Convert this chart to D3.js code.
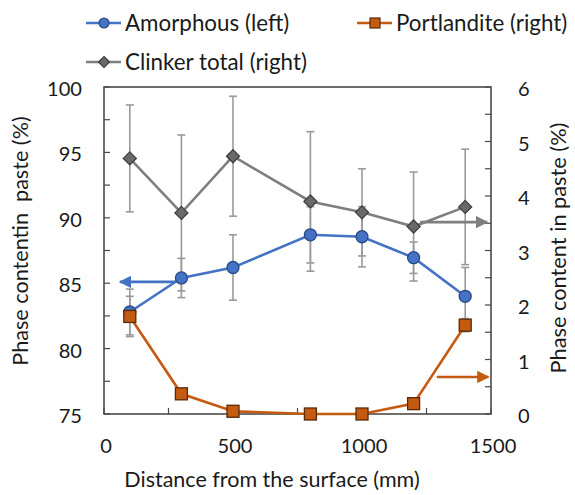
<!DOCTYPE html>
<html><head><meta charset="utf-8">
<script src="https://cdn.jsdelivr.net/npm/d3@7"></script>
<style>body{margin:0;background:#fff}svg{display:block}text{font-family:Lato,"Open Sans",sans-serif;fill:#1a1a1a}</style>
</head><body>
<svg id="c" width="575" height="495"></svg>
<script>
const distances = [100, 300, 500, 800, 1000, 1200, 1400];
const amorphous = [82.8, 85.4, 86.2, 88.7, 88.55, 86.95, 84.0];
const amorphousErr = [1.75, 1.5, 2.5, 2.15, 2.3, 1.2, 2.2];
const portlandite = [1.79, 0.37, 0.05, 0.0, 0.0, 0.19, 1.63];
const portlanditeErr = [0.37, 0.08, 0.05, 0.03, 0.03, 0.08, 0.12];
const clinker = [4.69, 3.69, 4.73, 3.90, 3.70, 3.44, 3.80];
const clinkerErr = [0.98, 1.43, 1.1, 1.28, 0.8, 1.0, 1.06];
const xTicks = [0, 500, 1000, 1500];
const xMinor = [250, 750, 1250];
const yLeftTicks = [75, 80, 85, 90, 95, 100];
const yRightTicks = [0, 1, 2, 3, 4, 5, 6];
const legendLabels = ["Amorphous (left)", "Portlandite (right)", "Clinker total (right)"];

const svg = d3.select("#c");
const x = d3.scaleLinear().domain([0, 1500]).range([104, 491]);
const yL = d3.scaleLinear().domain([75, 100]).range([414, 87]);
const yR = d3.scaleLinear().domain([0, 6]).range([414, 87]);

const frameColor = "#4a4a4a";
const blue = "#4472C4", blueDark = "#2a4a85";
const orange = "#C55A11", orangeDark = "#5a2a08";
const grey = "#7f7f7f", greyDark = "#3f3f3f";
const errColor = "#9a9a9a";

function fitSize(str, target) {
  const t = svg.append("text").attr("font-size", 20).text(str);
  const w = t.node().getComputedTextLength();
  t.remove();
  return 20 * target / w;
}
const tickSize = Math.min(21, fitSize("100", 35));
const legSize = (fitSize(legendLabels[0], 167) + fitSize(legendLabels[1], 166) + fitSize(legendLabels[2], 185)) / 3;

const defs = svg.append("defs");
function marker(id, color) {
  defs.append("marker").attr("id", id).attr("viewBox", "0 0 10 10").attr("refX", 9).attr("refY", 5)
    .attr("markerWidth", 4.8).attr("markerHeight", 4.8).attr("orient", "auto")
    .append("path").attr("d", "M0,0 L10,5 L0,10 z").attr("fill", color);
}
marker("aB", blue); marker("aG", grey); marker("aO", orange);

const g = svg.append("g");
g.selectAll(".lt").data(d3.range(75, 100.01, 2.5)).join("line")
  .attr("x1", x(0)).attr("x2", x(0) + 6).attr("y1", d => yL(d)).attr("y2", d => yL(d))
  .attr("stroke", frameColor).attr("stroke-width", 1.2);
g.selectAll(".rt").data(d3.range(0, 6.01, 0.5)).join("line")
  .attr("x1", x(1500)).attr("x2", x(1500) - 6).attr("y1", d => yR(d)).attr("y2", d => yR(d))
  .attr("stroke", frameColor).attr("stroke-width", 1.2);
g.selectAll(".bt").data(xTicks.concat(xMinor)).join("line")
  .attr("x1", d => x(d)).attr("x2", d => x(d)).attr("y1", yL(75)).attr("y2", yL(75) - 6)
  .attr("stroke", frameColor).attr("stroke-width", 1.2);

svg.append("rect").attr("x", x(0)).attr("y", yL(100)).attr("width", x(1500) - x(0)).attr("height", yL(75) - yL(100))
  .attr("fill", "none").attr("stroke", frameColor).attr("stroke-width", 1.6);

svg.selectAll(".yl").data(yLeftTicks).join("text")
  .attr("x", 82).attr("y", d => yL(d) + 2).attr("dy", "0.35em").attr("text-anchor", "end")
  .attr("font-size", tickSize).text(d => d);
svg.selectAll(".yr").data(yRightTicks).join("text")
  .attr("x", 518).attr("y", d => yR(d) + 2).attr("dy", "0.35em").attr("text-anchor", "start")
  .attr("font-size", tickSize).text(d => d);
svg.selectAll(".xl").data(xTicks).join("text")
  .attr("x", d => x(d) + 2).attr("y", 446).attr("dy", "0.35em").attr("text-anchor", "middle")
  .attr("font-size", tickSize).text(d => d);

const leftTitle = "Phase contentin  paste (%)";
const rightTitle = "Phase content in paste (%)";
const xTitle = "Distance from the surface (mm)";
svg.append("text").attr("transform", "translate(28,241) rotate(-90)").attr("text-anchor", "middle")
  .attr("xml:space", "preserve").attr("font-size", fitSize(leftTitle, 244)).text(leftTitle);
svg.append("text").attr("transform", "translate(566,248) rotate(-90)").attr("text-anchor", "middle")
  .attr("font-size", fitSize(rightTitle, 251)).text(rightTitle);
svg.append("text").attr("x", 272).attr("y", 479).attr("dy", "0.35em").attr("text-anchor", "middle")
  .attr("font-size", Math.min(21.5, fitSize(xTitle, 309))).text(xTitle);

function errBars(vals, errs, scale) {
  const eg = svg.append("g").attr("stroke", errColor).attr("stroke-width", 1.6);
  distances.forEach((d, i) => {
    const cx = x(d), y1 = scale(vals[i] + errs[i]), y2 = scale(vals[i] - errs[i]);
    eg.append("line").attr("x1", cx).attr("x2", cx).attr("y1", y1).attr("y2", y2);
    eg.append("line").attr("x1", cx - 4).attr("x2", cx + 4).attr("y1", y1).attr("y2", y1);
    eg.append("line").attr("x1", cx - 4).attr("x2", cx + 4).attr("y1", y2).attr("y2", y2);
  });
}
errBars(clinker, clinkerErr, yR);
errBars(amorphous, amorphousErr, yL);
errBars(portlandite, portlanditeErr, yR);

function series(vals, scale, color) {
  const line = d3.line().x((v, i) => x(distances[i])).y(v => scale(v));
  svg.append("path").datum(vals).attr("d", line).attr("fill", "none").attr("stroke", color).attr("stroke-width", 2.6);
}
series(clinker, yR, grey);
series(amorphous, yL, blue);
series(portlandite, yR, orange);

function arrow(x1, x2, yv, scale, color, id) {
  svg.append("line").attr("x1", x(x1)).attr("x2", x(x2)).attr("y1", scale(yv)).attr("y2", scale(yv))
    .attr("stroke", color).attr("stroke-width", 2.6).attr("marker-end", `url(#${id})`);
}
arrow(275, 62, 85.1, yL, blue, "aB");
arrow(1225, 1485, 3.52, yR, grey, "aG");
arrow(1290, 1490, 0.68, yR, orange, "aO");

function diamond(sel, cx, cy, s) {
  sel.append("path").attr("d", `M${cx},${cy - s} L${cx + s},${cy} L${cx},${cy + s} L${cx - s},${cy} Z`);
}
const gm = svg.append("g").attr("fill", "#6a6a6a").attr("stroke", greyDark).attr("stroke-width", 1.3);
clinker.forEach((v, i) => diamond(gm, x(distances[i]), yR(v), 6.5));
svg.append("g").selectAll("circle").data(amorphous).join("circle")
  .attr("cx", (v, i) => x(distances[i])).attr("cy", v => yL(v)).attr("r", 6)
  .attr("fill", blue).attr("stroke", blueDark).attr("stroke-width", 1.3);
svg.append("g").selectAll("rect").data(portlandite).join("rect")
  .attr("x", (v, i) => x(distances[i]) - 6).attr("y", v => yR(v) - 6).attr("width", 12).attr("height", 12)
  .attr("fill", orange).attr("stroke", orangeDark).attr("stroke-width", 1.3);

const leg = svg.append("g");
function legItem(lx, ly, color, shape, label) {
  leg.append("line").attr("x1", lx).attr("x2", lx + 35).attr("y1", ly).attr("y2", ly).attr("stroke", color).attr("stroke-width", 2.4);
  const cx = lx + 18;
  if (shape === "circle") leg.append("circle").attr("cx", cx).attr("cy", ly).attr("r", 5).attr("fill", blue).attr("stroke", blueDark).attr("stroke-width", 1.2);
  if (shape === "square") leg.append("rect").attr("x", cx - 5).attr("y", ly - 5).attr("width", 10).attr("height", 10).attr("fill", orange).attr("stroke", orangeDark).attr("stroke-width", 1.2);
  if (shape === "diamond") { const s = leg.append("g").attr("fill", "#6a6a6a").attr("stroke", greyDark).attr("stroke-width", 1.2); diamond(s, cx, ly, 5.5); }
  leg.append("text").attr("x", lx + 39).attr("y", ly).attr("dy", "0.35em").attr("font-size", legSize).text(label);
}
legItem(86, 23, blue, "circle", legendLabels[0]);
legItem(357, 23, orange, "square", legendLabels[1]);
legItem(86, 62, grey, "diamond", legendLabels[2]);
</script>
</body></html>
